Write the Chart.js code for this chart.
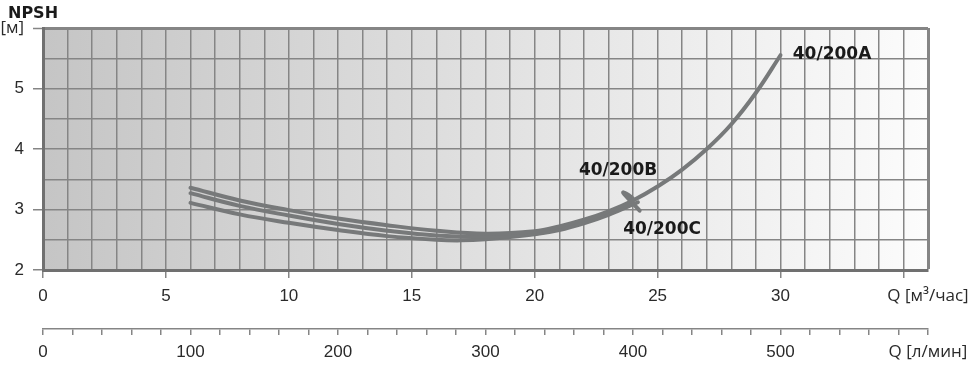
<!DOCTYPE html>
<html><head><meta charset="utf-8">
<script src="https://cdn.jsdelivr.net/npm/chart.js@4.4.0/dist/chart.umd.min.js"></script>
<style>html,body{margin:0;padding:0;background:#fff}#wrap{width:974px;height:365px}</style>
</head><body><div id="wrap"><canvas id="c" width="974" height="365"></canvas></div>
<script>
// ---- data ----
const qA    = [6, 8, 10, 12, 14, 16, 18, 20, 21, 22, 23, 24, 25, 26, 27, 28, 29, 30];
const npshA = [3.36, 3.15, 2.99, 2.85, 2.74, 2.65, 2.60, 2.64, 2.72, 2.83, 2.97, 3.15, 3.38, 3.66, 4.00, 4.41, 4.93, 5.55];
const qB    = [6, 8, 10, 12, 14, 16, 18, 20, 21, 22, 23, 24.0, 23.6, 24.27];
const npshB = [3.27, 3.06, 2.90, 2.76, 2.65, 2.57, 2.55, 2.60, 2.68, 2.79, 2.94, 3.15, 3.28, 2.98];
const qC    = [6, 8, 10, 12, 14, 16, 17, 18, 20, 21, 22, 23, 24.2];
const npshC = [3.11, 2.92, 2.78, 2.66, 2.56, 2.50, 2.49, 2.51, 2.59, 2.66, 2.77, 2.91, 3.12];
const curveNames = ['40/200A', '40/200B', '40/200C'];
const nameQ      = [30.5, 21.8, 23.6];
const nameNPSH   = [5.56, 3.64, 2.67];
const yTitle = 'NPSH';
const yUnit = '[м]';
const xUnitM3 = 'Q [м³/час]';
const xUnitL = 'Q [л/мин]';
const qMax = 36, lMax = 600, hMin = 2, hMax = 6;

const toPts = (xs, ys) => xs.map((x, i) => ({x: x, y: ys[i]}));
const curveColor = '#77797a';
const gridColor = '#858585';
const borderColor = '#707070';
const tickFont = {family: 'Liberation Sans, Arial, sans-serif', size: 17};
const unitFont = {family: 'Open Sans, sans-serif', size: 17};

const bgPlugin = {
  id: 'bg',
  beforeDraw(chart) {
    const {ctx, chartArea: a} = chart;
    const g = ctx.createLinearGradient(a.left, 0, a.right, 0);
    g.addColorStop(0, '#c5c5c5');
    g.addColorStop(1, '#fcfcfc');
    ctx.save();
    ctx.fillStyle = g;
    ctx.fillRect(a.left, a.top, a.right - a.left, a.bottom - a.top);
    ctx.restore();
  },
  afterDraw(chart) {
    const {ctx, chartArea: a, scales} = chart;
    ctx.save();
    ctx.fillStyle = '#1a1a1a';
    ctx.font = 'bold 17px "DejaVu Sans", sans-serif';
    ctx.textBaseline = 'middle';
    ctx.textAlign = 'left';
    curveNames.forEach((n, i) => {
      ctx.fillText(n, scales.x.getPixelForValue(nameQ[i]), scales.y.getPixelForValue(nameNPSH[i]));
    });
    ctx.font = 'bold 16px "DejaVu Sans", sans-serif';
    ctx.fillText(yTitle, a.left - 35, a.top - 14);
    ctx.restore();
  }
};

new Chart(document.getElementById('c'), {
  type: 'line',
  data: {
    datasets: [
      {data: toPts(qA, npshA)},
      {data: toPts(qB, npshB)},
      {data: toPts(qC, npshC)}
    ].map(d => Object.assign(d, {
      borderColor: curveColor, borderWidth: 4, pointRadius: 0, fill: false,
      tension: 0.4, borderCapStyle: 'round', borderJoinStyle: 'round', xAxisID: 'x', yAxisID: 'y'
    }))
  },
  options: {
    responsive: false, animation: false, devicePixelRatio: 1,
    layout: {padding: {top: 28, right: 46, left: 0, bottom: 0}},
    plugins: {legend: {display: false}, tooltip: {enabled: false}},
    scales: {
      x: {
        type: 'linear', position: 'bottom', min: 0, max: qMax, weight: 0,
        afterFit(s) { s.height = 59; s.paddingLeft = 0; s.paddingRight = 0; },
        ticks: {
          stepSize: 1, autoSkip: false, maxRotation: 0, padding: 8, color: '#2a2a2a',
          font: c => (c.tick && c.tick.value === qMax) ? unitFont : tickFont,
          callback: v => v === qMax ? xUnitM3 : ((v % 5 === 0 && v < 35) ? v : '')
        },
        grid: {
          color: gridColor, tickLength: 8,
          lineWidth: c => (c.tick && c.tick.value === qMax) ? 3 : 1.5,
          tickWidth: 1.5,
          tickColor: c => (c.tick && c.tick.value % 5 === 0 && c.tick.value < qMax) ? gridColor : 'rgba(0,0,0,0)'
        },
        border: {color: borderColor, width: 3}
      },
      x2: {
        type: 'linear', position: 'bottom', min: 0, max: lMax, weight: 1,
        afterFit(s) { s.height = 36; s.paddingLeft = 0; s.paddingRight = 0; },
        ticks: {
          stepSize: 20, autoSkip: false, maxRotation: 0, padding: 7, color: '#2a2a2a',
          font: c => (c.tick && c.tick.value === lMax) ? unitFont : tickFont,
          callback: v => v === lMax ? xUnitL : (v % 100 === 0 ? v : '')
        },
        grid: {drawOnChartArea: false, color: gridColor, tickLength: 6, lineWidth: 1.5},
        border: {color: gridColor, width: 1.5}
      },
      y: {
        type: 'linear', min: hMin, max: hMax,
        afterFit(s) { s.width = 43; },
        ticks: {
          stepSize: 0.5, padding: 9, color: '#2a2a2a',
          font: c => (c.tick && c.tick.value === hMax) ? unitFont : tickFont,
          callback: v => v === hMax ? yUnit : (Number.isInteger(v) ? v : '')
        },
        grid: {
          color: gridColor, tickLength: 10,
          lineWidth: c => (c.tick && c.tick.value === hMax) ? 3 : 1.5,
          tickWidth: 1.5,
          tickColor: c => (c.tick && Number.isInteger(c.tick.value)) ? gridColor : 'rgba(0,0,0,0)'
        },
        border: {color: borderColor, width: 3}
      }
    }
  },
  plugins: [bgPlugin]
});
</script></body></html>
